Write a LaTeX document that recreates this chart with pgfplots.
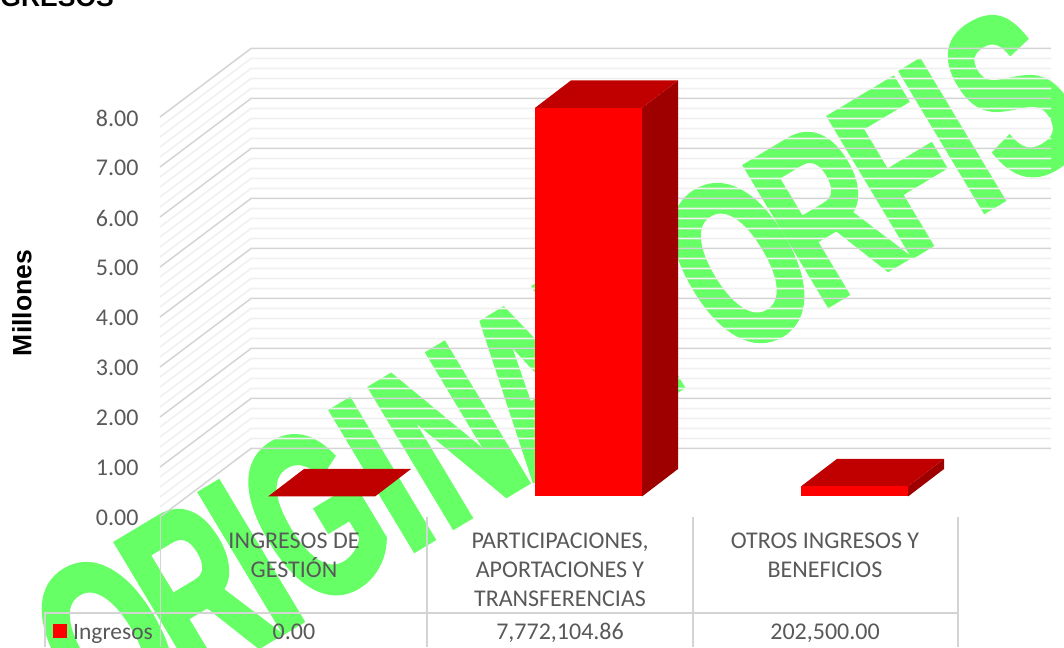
\documentclass[border=0pt]{standalone}
\usepackage{pgfplots}
\pgfplotsset{compat=1.18}
\usepackage{fontspec}
\setmainfont{Carlito}
\newfontfamily\wmfont[FakeBold=2,FakeStretch=0.62]{Liberation Sans Bold}
\newfontfamily\arialb{Liberation Sans Bold}
\definecolor{wm}{HTML}{66FF66}
\definecolor{txt}{HTML}{595959}
\definecolor{gmaj}{HTML}{D4D4D4}
\definecolor{gmin}{HTML}{F0F0F0}
\definecolor{btop}{HTML}{C00000}
\definecolor{bside}{HTML}{9E0000}
\newcommand{\wm}[4]{\node[rotate=31,anchor=base west,text=wm,inner sep=0pt,font={\wmfont\fontsize{236}{236}\selectfont}] at ({#1-#4*0.857},{647-#2-#4*0.515}) {#3};}
\begin{document}
\begin{tikzpicture}[x=1pt,y=1pt]
\path[use as bounding box] (0,0) rectangle (1064,647);
% watermark letters: ink bottom-left in pixels, side bearing
\wm{106}{738}{O}{6}
\wm{200}{682}{R}{10}
\wm{284}{632}{I}{10}
\wm{313}{611}{G}{6}
\wm{415}{550}{I}{10}
\wm{454}{527}{N}{10}
\wm{531}{482}{A}{0}
\wm{618}{426}{L}{10}
\wm{737}{359}{O}{6}
\wm{829}{305}{R}{10}
\wm{913}{256}{F}{10}
\wm{985}{211}{I}{10}
\wm{1018}{188}{S}{6}
\begin{axis}[
  at={(160pt,130pt)}, anchor=south west,
  scale only axis, width=904pt, height=517pt,
  xmin=160, xmax=1064, ymin=0, ymax=10.34,
  clip=false,
  axis line style={draw=none},
  xtick=\empty,
  ytick={0,1,2,3,4,5,6,7,8},
  major tick length=0pt,
  yticklabel style={font=\fontsize{24}{28}\selectfont, text=txt, xshift=-18pt, yshift=-1pt},
  /pgf/number format/assume math mode=true,
  /pgf/number format/.cd, fixed, fixed zerofill, precision=2,
]
\pgfplotsinvokeforeach{0.2,0.4,0.6,0.8,1.2,1.4,1.6,1.8,2.2,2.4,2.6,2.8,3.2,3.4,3.6,3.8,4.2,4.4,4.6,4.8,5.2,5.4,5.6,5.8,6.2,6.4,6.6,6.8,7.2,7.4,7.6,7.8}{
  \draw[gmin,line width=1.6pt] (axis cs:160,#1) -- (axis cs:251,{#1+1.37}) -- (axis cs:1051,{#1+1.37});
}
\pgfplotsinvokeforeach{0,1,2,3,4,5,6,7,8}{
  \draw[gmaj,line width=1.5pt] (axis cs:160,#1) -- (axis cs:251,{#1+1.37}) -- (axis cs:1051,{#1+1.37});
}
% bars: front base 0.41, depth (36, 0.55)
\addplot[draw=none,fill=btop] coordinates {(268,0.41) (375,0.41) (411,0.96) (304,0.96)} -- cycle;
\addplot[draw=none,fill=bside] coordinates {(642,0.41) (678,0.96) (678,8.732) (642,8.182)} -- cycle;
\addplot[draw=none,fill=btop] coordinates {(535,8.182) (642,8.182) (678,8.732) (571,8.732)} -- cycle;
\addplot[draw=none,fill=red] coordinates {(535,0.41) (642,0.41) (642,8.182) (535,8.182)} -- cycle;
\addplot[draw=none,fill=bside] coordinates {(908,0.41) (944,0.96) (944,1.1625) (908,0.6125)} -- cycle;
\addplot[draw=none,fill=btop] coordinates {(801,0.6125) (908,0.6125) (944,1.1625) (837,1.1625)} -- cycle;
\addplot[draw=none,fill=red] coordinates {(801,0.41) (908,0.41) (908,0.6125) (801,0.6125)} -- cycle;
\end{axis}
% data table
\begin{scope}[gmaj,line width=1.5pt]
\draw (160.5,647-517) -- (160.5,0);
\draw (427,647-517) -- (427,0);
\draw (693,647-517) -- (693,0);
\draw (958,647-517) -- (958,0);
\draw (45,0) -- (45,647-613) -- (958,647-613);
\end{scope}
\begin{scope}[every node/.style={text=txt,font=\fontsize{24}{28}\selectfont,inner sep=0pt,anchor=base}]
\node at (294,647-549) {INGRESOS DE};
\node at (294,647-578) {GESTIÓN};
\node at (560,647-549) {PARTICIPACIONES,};
\node at (560,647-578) {APORTACIONES Y};
\node at (560,647-607) {TRANSFERENCIAS};
\node at (825,647-549) {OTROS INGRESOS Y};
\node at (825,647-578) {BENEFICIOS};
\node at (294,647-640) {0.00};
\node at (560,647-640) {7,772,104.86};
\node at (825,647-640) {202,500.00};
\node[anchor=base west,font=\fontsize{23.5}{28}\selectfont] at (73,647-640) {Ingresos};
\end{scope}
\fill[red] (53,647-638) rectangle (67,647-624);
\node[rotate=90,font={\arialb\fontsize{26.5}{26.5}\selectfont},inner sep=0pt] at (22,647-303) {Millones};
\node[anchor=base east,font={\arialb\fontsize{26.5}{26.5}\selectfont},inner sep=0pt] at (114,647-7) {INGRESOS};
\end{tikzpicture}
\end{document}
